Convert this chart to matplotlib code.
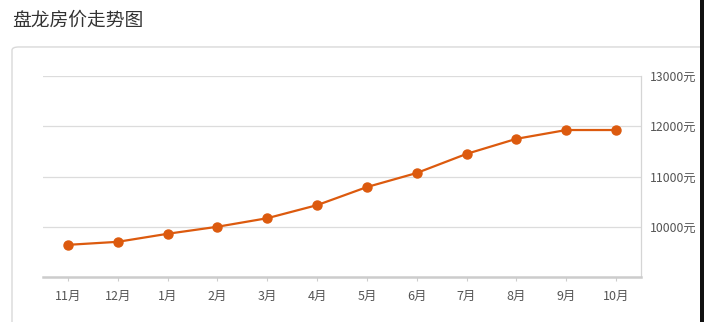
import matplotlib.pyplot as plt
from matplotlib.patches import FancyBboxPatch, Rectangle

plt.rcParams['font.family'] = ['Noto Sans CJK SC', 'DejaVu Sans']

# data
months = ["11月", "12月", "1月", "2月", "3月", "4月", "5月", "6月", "7月", "8月", "9月", "10月"]
prices = [9640, 9700, 9860, 10000, 10170, 10430, 10790, 11070, 11450, 11750, 11925, 11925]
y_ticks = [10000, 11000, 12000, 13000]
y_labels = [f"{v}元" for v in y_ticks]

W, H = 704, 322
fig = plt.figure(figsize=(W / 100, H / 100), dpi=100)

# card background with rounded border
card = FancyBboxPatch((12 / W, -0.2), 0.99, (322 - 46) / H + 0.2 - 0.003,
                      boxstyle="round,pad=0,rounding_size=0.01",
                      transform=fig.transFigure, facecolor='white',
                      edgecolor='#d9d9d9', linewidth=1.0, zorder=-5)
fig.patches.append(card)
fig.patches.append(Rectangle((700 / W, 0), 4 / W, 1, transform=fig.transFigure,
                             facecolor='#111111', edgecolor='none', zorder=-5))

fig.text(12 / W, 1 - 20 / H, "盘龙房价走势图", fontsize=13.5, color='#333333',
         ha='left', va='center')

ax = fig.add_axes([43 / W, 1 - 277 / H, (641 - 43) / W, (277 - 76) / H])
ax.set_zorder(2)
ax.set_facecolor('none')
x = list(range(len(months)))
ax.plot(x, prices, color='#dc5a0e', linewidth=1.6, marker='o', markersize=6.5,
        zorder=3, clip_on=False)

ax.set_xlim(-0.5, len(months) - 0.5)
ax.set_ylim(9000, 13000)
ax.set_xticks(x)
ax.set_xticklabels(months)
ax.set_yticks(y_ticks)
ax.set_yticklabels(y_labels)
ax.yaxis.tick_right()

for s in ['top', 'left']:
    ax.spines[s].set_visible(False)
ax.spines['bottom'].set_color('#cccccc')
ax.spines['bottom'].set_linewidth(1.8)
ax.spines['right'].set_color('#d5d5d5')
ax.spines['right'].set_linewidth(0.9)

ax.grid(axis='y', color='#dcdcdc', linewidth=0.9)
ax.set_axisbelow(True)
ax.tick_params(axis='x', length=3, width=0.8, color='#cccccc', pad=6,
               labelsize=9, labelcolor='#555555')
ax.tick_params(axis='y', length=0, pad=6.5, labelsize=8.8, labelcolor='#555555')

fig.savefig("out.png", dpi=100)
